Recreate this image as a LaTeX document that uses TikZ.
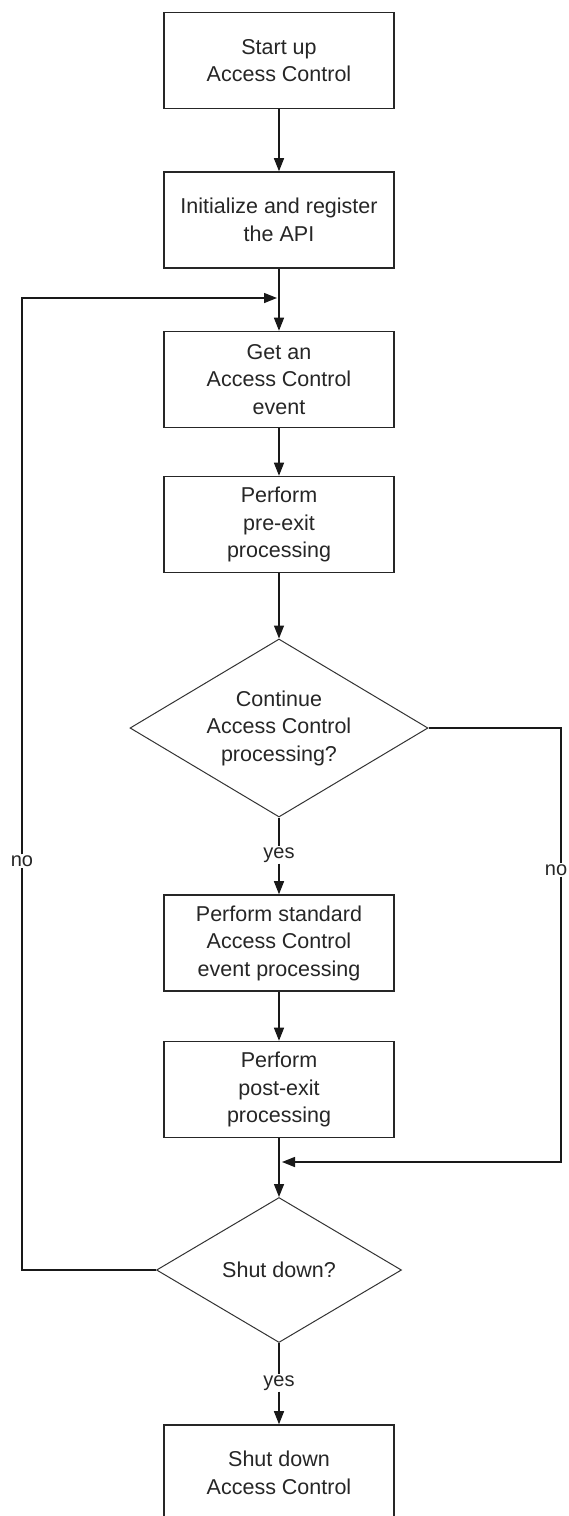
\documentclass[tikz,border=0pt]{standalone}
\usepackage{fontspec}
\setmainfont{Liberation Sans}
\usetikzlibrary{shapes.geometric,arrows.meta}
\begin{document}
\begin{tikzpicture}[x=1pt,y=-1pt,
  stepbox/.style={draw=black!85,line width=1.6pt,minimum width=230pt,minimum height=96pt,inner sep=0pt,align=center,
    font=\fontsize{21.5}{27.5}\selectfont,text=black!85},
  decision/.style={draw=black!80,line width=1pt,shape=diamond,inner sep=0pt,align=center,
    font=\fontsize{21.5}{27.5}\selectfont,text=black!85},
  lbl/.style={inner sep=1pt,font=\fontsize{20}{24}\selectfont,text=black!85},
  conn/.style={draw=black!90,line width=1.4pt},
  arr/.style={conn,-{Triangle[length=13pt,width=10pt]}}]
\useasboundingbox (0,0) rectangle (569,1516);
\clip (0,0) rectangle (569,1516);
\fill[white] (0,0) rectangle (569,1516);

\node[stepbox] (b1) at (279,60.5) {Start up\\Access Control};
\node[stepbox] (b2) at (279,220) {Initialize and register\\the API};
\node[stepbox] (b3) at (279,379.5) {Get an\\Access Control\\event};
\node[stepbox] (b4) at (279,524.5) {Perform\\pre-exit\\processing};
\node[decision,minimum width=298pt,minimum height=178pt,shape aspect=1.674] (d1) at (279,728) {Continue\\Access Control\\processing?};
\node[stepbox] (b5) at (279,943) {Perform standard\\Access Control\\event processing};
\node[stepbox] (b6) at (279,1089.5) {Perform\\post-exit\\processing};
\node[decision,minimum width=245pt,minimum height=145pt,shape aspect=1.69] (d2) at (279,1270) {Shut down?};
\node[stepbox] (b7) at (279,1473) {Shut down\\Access Control};

\node[lbl] (yes1) at (279,855) {yes};
\node[lbl] (yes2) at (279,1383) {yes};
\node[lbl] (lno) at (22,861) {no};
\node[lbl] (rno) at (556,870) {no};

\coordinate (j1) at (277,298);
\coordinate (j2) at (282,1162);

\draw[arr] (b1.south) -- (b2.north);
\draw[arr] (b2.south) -- (b3.north);
\draw[arr] (b3.south) -- (b4.north);
\draw[arr] (b4.south) -- (d1.north);
\draw[conn] (d1.south) -- (yes1.north);
\draw[arr] (yes1.south) -- (b5.north);
\draw[arr] (b5.south) -- (b6.north);
\draw[arr] (b6.south) -- (d2.north);
\draw[conn] (d2.south) -- (yes2.north);
\draw[arr] (yes2.south) -- (b7.north);
\draw[conn] (d2.west) -| (lno.south);
\draw[arr] (lno.north) |- (j1);
\draw[conn] (d1.east) -| ([xshift=5pt]rno.north);
\draw[arr] ([xshift=5pt]rno.south) |- (j2);
\end{tikzpicture}
\end{document}
